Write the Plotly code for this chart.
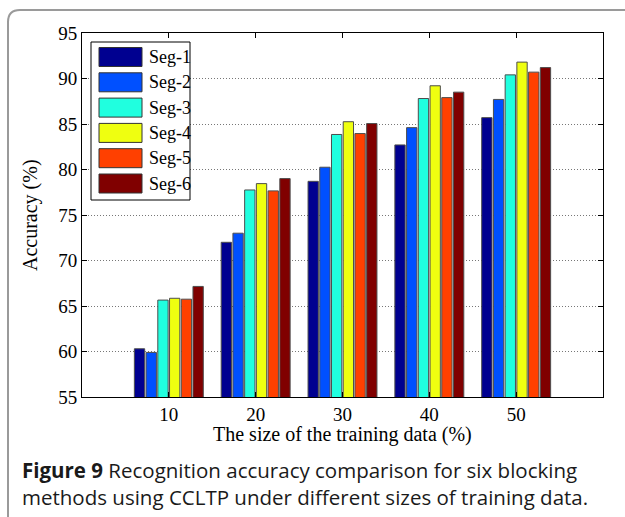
import plotly.graph_objects as go

# ---- data ----
train_sizes = [10, 20, 30, 40, 50]
series_names = ["Seg-1", "Seg-2", "Seg-3", "Seg-4", "Seg-5", "Seg-6"]
seg1 = [60.3, 72.0, 78.7, 82.7, 85.7]
seg2 = [59.9, 73.0, 80.25, 84.6, 87.7]
seg3 = [65.65, 77.75, 83.85, 87.8, 90.4]
seg4 = [65.85, 78.45, 85.25, 89.2, 91.8]
seg5 = [65.75, 77.65, 83.95, 87.9, 90.7]
seg6 = [67.15, 79.0, 85.05, 88.5, 91.2]
series_values = [seg1, seg2, seg3, seg4, seg5, seg6]
colors = ["#000090", "#0050FF", "#20FFDF", "#EFFF10", "#FF4000", "#800000"]
y_ticks = [55, 60, 65, 70, 75, 80, 85, 90, 95]

W, H = 625, 517
L, R, T, B = 82, 603, 33, 397  # plot area in pixels

def px(x):
    return (x - L) / (R - L)

def py(y):
    return (B - y) / (B - T)

serif = "Liberation Serif"

fig = go.Figure()
for name, vals, col in zip(series_names, series_values, colors):
    fig.add_trace(go.Bar(
        x=train_sizes, y=vals, name=name,
        marker=dict(color=col, line=dict(color="#4d4d4d", width=1)),
        showlegend=False,
    ))

shapes = []
annotations = []

# legend box (custom, MATLAB-like)
shapes.append(dict(type="rect", xref="paper", yref="paper",
                   x0=px(91), x1=px(190), y0=py(200), y1=py(42),
                   line=dict(color="black", width=1), fillcolor="white", layer="above"))
for i, (name, col) in enumerate(zip(series_names, colors)):
    top = 47.5 + i * 25.3
    shapes.append(dict(type="rect", xref="paper", yref="paper",
                       x0=px(99), x1=px(142), y0=py(top + 19), y1=py(top),
                       line=dict(color="#333333", width=1), fillcolor=col, layer="above"))
    annotations.append(dict(xref="paper", yref="paper", x=px(147), y=py(top + 9.5),
                            text=name, showarrow=False, xanchor="left", yanchor="middle",
                            font=dict(family=serif, size=18, color="black")))

# outer frame with rounded top-left corner
shapes.append(dict(type="path", xref="paper", yref="paper",
                   path=f"M {px(8)},{py(517)} L {px(8)},{py(22)} Q {px(8)},{py(10)} {px(20)},{py(10)} L {px(625)},{py(10)}",
                   line=dict(color="#9a9a9a", width=2)))

# axis titles
annotations.append(dict(xref="paper", yref="paper", x=px(342), y=py(434),
                        text="The size of the training data (%)", showarrow=False,
                        xanchor="center", yanchor="middle",
                        font=dict(family=serif, size=20, color="black")))
annotations.append(dict(xref="paper", yref="paper", x=px(30), y=py(215),
                        text="Accuracy (%)", showarrow=False, textangle=-90,
                        xanchor="center", yanchor="middle",
                        font=dict(family=serif, size=20, color="black")))

# caption
cap_font = dict(family="Open Sans", size=20.5, color="#1a1a1a")
annotations.append(dict(xref="paper", yref="paper", x=px(20), y=py(470),
                        text="<b>Figure 9</b> Recognition accuracy comparison for six blocking",
                        showarrow=False, xanchor="left", yanchor="middle", font=cap_font))
annotations.append(dict(xref="paper", yref="paper", x=px(20), y=py(497),
                        text="methods using CCLTP under different sizes of training data.",
                        showarrow=False, xanchor="left", yanchor="middle", font=cap_font))

fig.update_layout(
    width=W, height=H,
    margin=dict(l=L, r=W - R, t=T, b=H - B, autoexpand=False),
    paper_bgcolor="white", plot_bgcolor="white",
    barmode="group", bargap=0.19, bargroupgap=0.12,
    shapes=shapes, annotations=annotations,
    xaxis=dict(range=[0, 60], tickvals=train_sizes, ticktext=[str(v) for v in train_sizes],
               showgrid=False, zeroline=False, showline=True, linecolor="black", linewidth=1,
               mirror="ticks", ticks="inside", ticklen=5, tickcolor="black",
               ticklabelstandoff=0,
               tickfont=dict(family=serif, size=19, color="black")),
    yaxis=dict(range=[55, 95], tickvals=y_ticks, ticktext=[str(v) for v in y_ticks],
               showgrid=True, gridcolor="#777777", griddash="1px,2px", gridwidth=1,
               zeroline=False, showline=True, linecolor="black", linewidth=1,
               mirror="ticks", ticks="inside", ticklen=5, tickcolor="black",
               tickfont=dict(family=serif, size=19, color="black")),
)

fig.write_html("out.html", config={"displayModeBar": False},
               post_script="document.body.style.margin='0';document.body.style.padding='0';")
